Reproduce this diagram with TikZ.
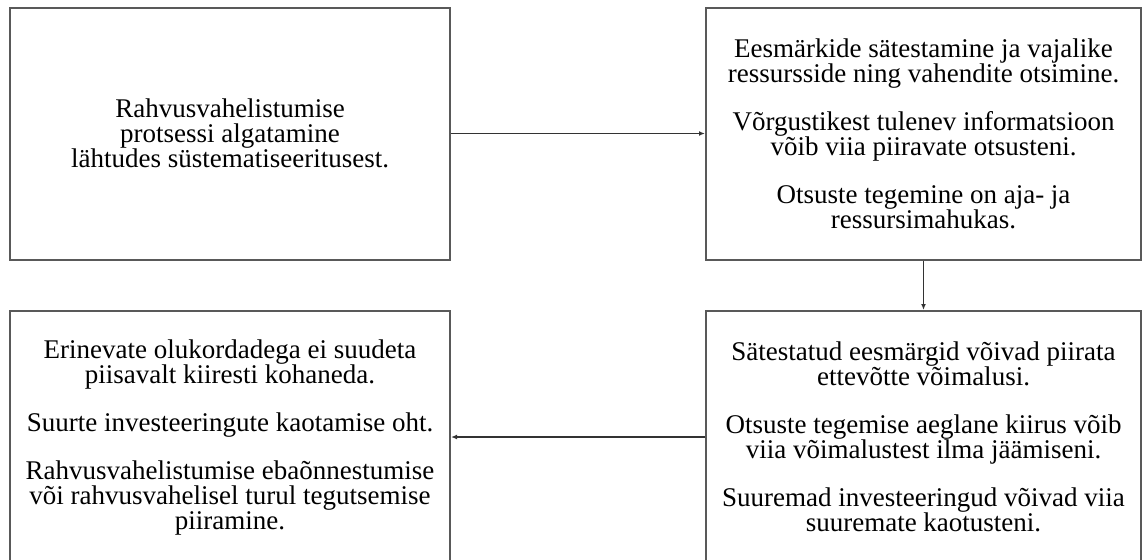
\documentclass[tikz,border=0pt]{standalone}
\usepackage{fontspec}
\setmainfont{Liberation Serif}
\usetikzlibrary{arrows.meta}
\begin{document}
\begin{tikzpicture}[x=0.5pt,y=-0.5pt,
    box/.style={draw=black!65,line width=1pt,minimum height=126pt,align=center,
      font=\fontsize{13.5pt}{12.5pt}\selectfont,inner sep=0pt},
    link/.style={draw=black!80,line width=0.7pt,-{Latex[length=3pt,width=2.4pt]}}]
    \useasboundingbox (0,0) rectangle (1144,559);
    \node[box,minimum width=220pt] (start) at (230,133.5)
      {Rahvusvahelistumise\\protsessi algatamine\\lähtudes süstematiseeritusest.};
    \node[box,minimum width=217.5pt] (goals) at (923.5,133.5)
      {Eesmärkide sätestamine ja vajalike\\ressursside ning vahendite otsimine.\\[11.5pt]
       Võrgustikest tulenev informatsioon\\võib viia piiravate otsusteni.\\[11.5pt]
       Otsuste tegemine on aja- ja\\ressursimahukas.};
    \node[box,minimum width=217.5pt] (limits) at (923.5,437)
      {Sätestatud eesmärgid võivad piirata\\ettevõtte võimalusi.\\[11.5pt]
       Otsuste tegemise aeglane kiirus võib\\viia võimalustest ilma jäämiseni.\\[11.5pt]
       Suuremad investeeringud võivad viia\\suuremate kaotusteni.};
    \node[box,minimum width=220pt] (risks) at (230,437)
      {Erinevate olukordadega ei suudeta\\piisavalt kiiresti kohaneda.\\[11.5pt]
       Suurte investeeringute kaotamise oht.\\[11.5pt]
       Rahvusvahelistumise ebaõnnestumise\\või rahvusvahelisel turul tegutsemise\\piiramine.};
    \draw[link] (start.east) -- (goals.west);
    \draw[link] (goals.south) -- (limits.north);
    \draw[link] (limits.west) -- (risks.east);
  \end{tikzpicture}
\end{document}
